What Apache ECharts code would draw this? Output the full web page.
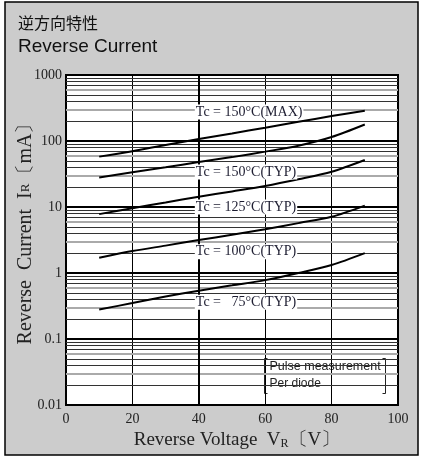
<!DOCTYPE html>
<html>
<head>
<meta charset="utf-8">
<script src="https://cdn.jsdelivr.net/npm/echarts@6/dist/echarts.min.js"></script>
<style>
  html, body { margin: 0; padding: 0; background: #fff; }
  #main { width: 423px; height: 457px; }
</style>
</head>
<body>
<div id="main"></div>
<script>
// reverse voltage (V) where each curve was read
const voltages = [10, 20, 30, 40, 50, 60, 70, 80, 90];

// reverse current (mA) per temperature curve
const ir150max = [58, 70, 87, 107, 130, 159, 195, 239, 288];
const ir150typ = [28, 33.5, 40, 48, 57, 69, 85, 115, 178];
const ir125typ = [7.8, 9.6, 11.7, 14.3, 17.2, 20.8, 26.3, 34.2, 51.5];
const ir100typ = [1.7, 2.15, 2.6, 3.15, 3.8, 4.6, 5.7, 7.1, 10.5];
const ir75typ = [0.28, 0.35, 0.44, 0.54, 0.65, 0.78, 1.0, 1.32, 2.0];

const curveNames = ['Tc = 150°C(MAX)', 'Tc = 150°C(TYP)', 'Tc = 125°C(TYP)', 'Tc = 100°C(TYP)', 'Tc =   75°C(TYP)'];
// where each curve's tag sits (value on the current axis)
const tagValues = [275, 34, 10, 2.1, 0.36];

const yTickLabels = ['0.01', '0.1', '1', '10', '100', '1000'];
const xTickLabels = ['0', '20', '40', '60', '80', '100'];

const chart = echarts.init(document.getElementById('main'));

const serif = "'Liberation Serif', 'DejaVu Serif', serif";

// minor log grid lines 2..9 in every decade, 3 and 6 drawn light grey
const minorLines = [];
[0.01, 0.1, 1, 10, 100].forEach(function (d) {
  [2, 3, 4, 5, 6, 7, 8, 9].forEach(function (k) {
    const grey = (k === 3 || k === 6);
    minorLines.push({
      yAxis: d * k,
      lineStyle: { color: grey ? '#aaaaaa' : '#333333', width: grey ? 2 : 1, type: 'solid' }
    });
  });
});
minorLines.push({ xAxis: 40, lineStyle: { color: '#000', width: 2, type: 'solid' } });

const curves = [ir150max, ir150typ, ir125typ, ir100typ, ir75typ];

const series = [{
  type: 'line',
  z: 1,
  data: [[0, 1]],
  symbol: 'none',
  lineStyle: { opacity: 0 },
  silent: true,
  markLine: {
    z: 1,
    silent: true,
    symbol: 'none',
    label: { show: false },
    data: minorLines
  }
}];

curves.forEach(function (vals, i) {
  series.push({
    name: curveNames[i],
    type: 'line',
    z: 3,
    smooth: 0.3,
    symbol: 'none',
    lineStyle: { color: '#000', width: 2 },
    data: voltages.map(function (v, j) { return [v, vals[j]]; }),
    markPoint: {
      z: 6,
      symbol: 'circle',
      symbolSize: 0,
      silent: true,
      data: [{ coord: [38.8, tagValues[i]] }],
      label: {
        show: true,
        position: 'right',
        distance: 0,
        formatter: curveNames[i],
        backgroundColor: '#fff',
        padding: [1, 1, 0, 1],
        fontFamily: serif,
        fontSize: 14,
        color: '#1c1c30'
      }
    }
  });
});

const option = {
  backgroundColor: '#fff',
  animation: false,
  graphic: [
    {
      type: 'rect',
      z: -10,
      shape: { x: 5, y: 2, width: 413, height: 453 },
      style: { fill: '#cccccc', stroke: '#000', lineWidth: 1.5 }
    },
    {
      type: 'text', left: 18, top: 15, z: 10,
      style: { text: '逆方向特性', font: "16px 'Noto Sans CJK JP'", fill: '#111' }
    },
    {
      type: 'text', left: 18, top: 37, z: 10,
      style: { text: 'Reverse Current', font: "19px 'Liberation Sans', Arial, sans-serif", fill: '#111' }
    },
    {
      type: 'group', left: 262, top: 356, z: 100,
      children: [
        { type: 'rect', shape: { x: 0, y: 0, width: 125, height: 39 }, style: { fill: '#fff' } },
        { type: 'polyline', shape: { points: [[5, 2], [2, 2], [2, 37], [5, 37]] }, style: { stroke: '#222', lineWidth: 1, fill: null } },
        { type: 'polyline', shape: { points: [[120, 2], [123, 2], [123, 37], [120, 37]] }, style: { stroke: '#222', lineWidth: 1, fill: null } },
        { type: 'text', x: 7, y: 4, style: { text: 'Pulse measurement', font: "12.5px 'Liberation Sans', sans-serif", fill: '#222' } },
        { type: 'text', x: 7, y: 21, style: { text: 'Per diode', font: "12px 'Liberation Sans', sans-serif", fill: '#222' } }
      ]
    }
  ],
  grid: {
    left: 66, right: 25, top: 75, bottom: 52,
    outerBoundsMode: 'none',
    containLabel: false,
    show: true,
    backgroundColor: '#fff',
    borderColor: '#000',
    borderWidth: 2
  },
  xAxis: {
    type: 'value',
    min: 0, max: 100, interval: 20,
    name: 'Reverse Voltage  V{s|R}〔V〕',
    nameLocation: 'middle',
    nameGap: 26,
    nameMoveOverlap: false,
    nameTextStyle: {
      fontFamily: serif, fontSize: 19, color: '#222',
      padding: [0, 0, 0, 10],
      rich: { s: { fontFamily: serif, fontSize: 12, color: '#222', verticalAlign: 'bottom' } }
    },
    axisLine: { show: true, lineStyle: { color: '#000', width: 2 } },
    axisTick: { show: false },
    axisLabel: {
      margin: 7,
      fontFamily: serif, fontSize: 14, color: '#222',
      formatter: function (v) { return xTickLabels[Math.round(v / 20)]; }
    },
    splitLine: { show: true, lineStyle: { color: '#000', width: 1 } }
  },
  yAxis: {
    type: 'log',
    logBase: 10,
    min: 0.01, max: 1000,
    name: 'Reverse  Current  I{s|R}〔mA〕',
    nameLocation: 'middle',
    nameGap: 30,
    nameMoveOverlap: false,
    nameTextStyle: {
      fontFamily: serif, fontSize: 20, color: '#222',
      padding: [0, 0, 0, 22],
      rich: { s: { fontFamily: serif, fontSize: 13, color: '#222' } }
    },
    axisLine: { show: true, lineStyle: { color: '#000', width: 2 } },
    axisTick: { show: false },
    axisLabel: {
      margin: 4,
      fontFamily: serif, fontSize: 14, color: '#222',
      formatter: function (v) { return yTickLabels[Math.round(Math.log10(v)) + 2]; }
    },
    splitLine: { show: true, lineStyle: { color: '#000', width: 2 } }
  },
  series: series
};

chart.setOption(option);
</script>
</body>
</html>
